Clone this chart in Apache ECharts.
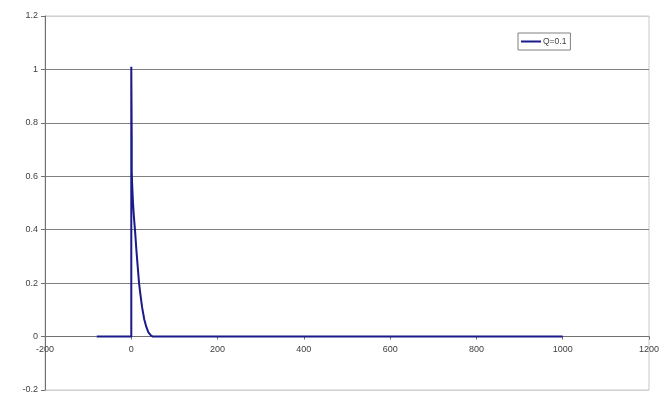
<!DOCTYPE html>
<html>
<head>
<meta charset="utf-8">
<script src="https://cdn.jsdelivr.net/npm/echarts@6/dist/echarts.min.js"></script>
<style>
  html, body { margin: 0; padding: 0; background: #ffffff; }
  #chart { width: 663px; height: 396px; }
</style>
</head>
<body>
<div id="chart"></div>
<script>
// Response curve for Q = 0.1
const seriesName = 'Q=0.1';
const xValues = [-80, 0, 0, 1, 1, 2, 4, 6, 9, 12, 15, 18, 21, 25, 30, 35, 40, 45, 50, 1000];
const yValues = [0, 0, 1.01, 0.75, 0.62, 0.57, 0.5, 0.45, 0.39, 0.32, 0.26, 0.2, 0.16, 0.11, 0.065, 0.035, 0.015, 0.005, 0, 0];

// Axis ranges and tick steps
const xMin = -200, xMax = 1200, xStep = 200;
const yMin = -0.2, yMax = 1.2, yStep = 0.2;

const points = xValues.map((x, i) => [x, yValues[i]]);

const gridTop = 16, gridBottom = 6, chartHeight = 396;
// Distance from the bottom edge of the plot to the y = 0 line, so the x axis sits on zero
const plotHeight = chartHeight - gridTop - gridBottom;
const zeroOffset = plotHeight * (0 - yMin) / (yMax - yMin);

const chart = echarts.init(document.getElementById('chart'));
const labelFont = { fontFamily: 'Liberation Sans, Arial, sans-serif', fontSize: 9, color: '#404040' };

chart.setOption({
  animation: false,
  backgroundColor: '#ffffff',
  grid: {
    left: 45, right: 14, top: gridTop, bottom: gridBottom,
    show: true, borderColor: '#c8c8c8', borderWidth: 1,
    containLabel: false,
    outerBoundsMode: 'none'
  },
  legend: {
    left: 518, top: 33,
    data: [seriesName],
    icon: 'rect',
    itemWidth: 20, itemHeight: 2,
    itemGap: 0,
    padding: [4, 4, 4, 3],
    borderColor: '#808080', borderWidth: 1,
    backgroundColor: '#ffffff',
    textStyle: Object.assign({}, labelFont, { fontSize: 8.5, padding: [0, 0, 0, -3] })
  },
  xAxis: {
    type: 'value',
    position: 'bottom',
    offset: -zeroOffset,
    min: xMin, max: xMax, interval: xStep,
    axisLine: { onZero: false, lineStyle: { color: '#707070', width: 1 } },
    axisTick: { show: true, inside: false, length: 3, lineStyle: { color: '#707070' } },
    axisLabel: Object.assign({}, labelFont, { margin: 8, formatter: v => String(v) }),
    splitLine: { show: false }
  },
  yAxis: {
    type: 'value',
    min: yMin, max: yMax, interval: yStep,
    axisLine: { show: true, onZero: false, lineStyle: { color: '#707070', width: 1 } },
    axisTick: { show: true, length: 4, lineStyle: { color: '#707070' } },
    axisLabel: Object.assign({}, labelFont, {
      margin: 7,
      formatter: v => String(Math.round(v * 10) / 10)
    }),
    splitLine: {
      show: true,
      lineStyle: {
        color: ['#d0d0d0', '#808080', '#808080', '#808080', '#808080', '#808080', '#808080', '#d0d0d0'],
        width: 1
      }
    }
  },
  series: [{
    name: seriesName,
    type: 'line',
    data: points,
    symbol: 'none',
    lineStyle: { color: '#1a1a8a', width: 2 },
    itemStyle: { color: '#1a1a8a' }
  }]
});
</script>
</body>
</html>
